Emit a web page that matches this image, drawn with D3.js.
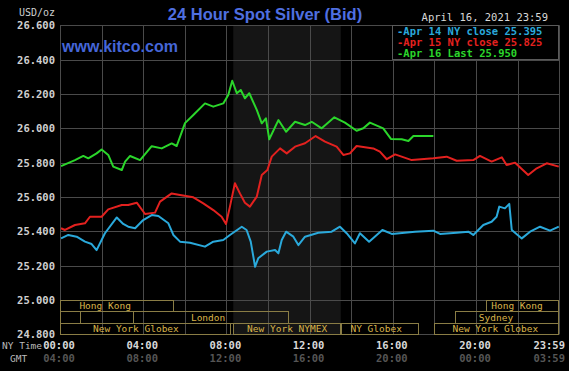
<!DOCTYPE html>
<html>
  <head>
    <script src="https://d3js.org/d3.v7.min.js"></script>
    <meta charset="utf-8">
    <style>
    body {
      margin: 0;
      background: #000;
    }
    svg {
      display: block;
    }
    .mono {
      font-family: "DejaVu Sans Mono", "Liberation Mono", monospace;
    }
  </style>
  </head>
  <body>
    <div id="chart"></div>
    <script>
    // [hour of NY day, price]
    var apr14 = [
      [0.05, 25.359], [0.4, 25.379], [0.8, 25.369], [1.2, 25.34], [1.52, 25.326], [1.76, 25.291],
      [2.16, 25.389], [2.73, 25.481], [3.04, 25.443], [3.28, 25.427], [3.61, 25.418], [4.0, 25.466],
      [4.41, 25.495], [4.73, 25.489], [5.21, 25.447], [5.45, 25.379], [5.77, 25.34], [6.25, 25.334],
      [6.97, 25.311], [7.37, 25.34], [7.85, 25.35], [8.17, 25.379], [8.74, 25.427], [8.97, 25.408],
      [9.17, 25.34], [9.38, 25.194], [9.53, 25.243], [9.94, 25.282], [10.34, 25.291], [10.5, 25.272],
      [10.66, 25.35], [10.87, 25.398], [11.22, 25.369], [11.46, 25.32], [11.78, 25.369], [12.42, 25.392],
      [13.06, 25.398], [13.46, 25.427], [13.78, 25.389], [14.18, 25.33], [14.42, 25.389], [14.86, 25.34],
      [15.5, 25.408], [15.95, 25.385], [17.07, 25.398], [17.95, 25.404], [18.27, 25.385], [19.07, 25.392],
      [19.63, 25.398], [19.87, 25.379], [20.35, 25.437], [20.75, 25.456], [20.99, 25.485], [21.12, 25.544],
      [21.39, 25.534], [21.6, 25.56], [21.72, 25.408], [22.2, 25.359], [22.6, 25.398], [23.08, 25.427],
      [23.56, 25.404], [23.98, 25.427]
    ];

    var apr15 = [
      [0.05, 25.418], [0.24, 25.408], [0.72, 25.437], [1.2, 25.447], [1.44, 25.485], [2.0, 25.485],
      [2.32, 25.528], [2.97, 25.553], [3.28, 25.553], [3.69, 25.567], [4.09, 25.501], [4.57, 25.509],
      [4.81, 25.573], [5.37, 25.621], [5.77, 25.612], [6.41, 25.598], [6.89, 25.563], [7.37, 25.524],
      [7.77, 25.485], [7.98, 25.443], [8.17, 25.544], [8.41, 25.68], [8.65, 25.621], [8.89, 25.567],
      [9.13, 25.544], [9.46, 25.602], [9.7, 25.728], [9.97, 25.757], [10.18, 25.835], [10.58, 25.883],
      [10.9, 25.854], [11.3, 25.893], [11.78, 25.913], [12.29, 25.955], [12.74, 25.922], [13.3, 25.893],
      [13.62, 25.845], [13.94, 25.854], [14.26, 25.897], [15.06, 25.883], [15.38, 25.864], [15.71, 25.82],
      [16.11, 25.848], [16.91, 25.815], [17.95, 25.825], [18.59, 25.835], [19.07, 25.811], [19.87, 25.815],
      [20.19, 25.839], [20.75, 25.806], [21.24, 25.831], [21.47, 25.786], [21.88, 25.8], [22.51, 25.728],
      [22.92, 25.767], [23.4, 25.796], [23.98, 25.777]
    ];

    var apr16 = [
      [0.05, 25.78], [0.72, 25.815], [1.12, 25.839], [1.36, 25.825], [1.76, 25.854], [2.0, 25.877],
      [2.32, 25.845], [2.56, 25.777], [2.97, 25.757], [3.13, 25.806], [3.37, 25.839], [3.85, 25.815],
      [4.41, 25.896], [4.89, 25.883], [5.37, 25.912], [5.61, 25.897], [6.01, 26.03], [6.41, 26.077],
      [6.97, 26.145], [7.37, 26.126], [7.85, 26.145], [8.09, 26.194], [8.28, 26.277], [8.5, 26.204],
      [8.69, 26.223], [8.89, 26.175], [9.1, 26.204], [9.46, 26.107], [9.7, 26.029], [9.9, 26.058],
      [10.06, 25.936], [10.5, 26.048], [10.87, 25.98], [11.3, 26.038], [11.78, 26.019], [12.1, 26.038],
      [12.58, 26.0], [13.19, 26.064], [13.7, 26.033], [14.26, 25.986], [14.58, 26.0], [14.9, 26.033],
      [15.54, 26.0], [15.91, 25.938], [16.43, 25.936], [16.75, 25.926], [16.99, 25.955], [17.95, 25.955]
    ];

    var legendLines = ["-Apr 14 NY close 25.395", "-Apr 15 NY close 25.825", "-Apr 16 Last 25.950"];
    var priceTicks = [24.8, 25.0, 25.2, 25.4, 25.6, 25.8, 26.0, 26.2, 26.4, 26.6];
    var hourLabels = [0, 4, 8, 12, 16, 20, 23.983];
    var nyLabels = ["00:00", "04:00", "08:00", "12:00", "16:00", "20:00", "23:59"];
    var gmtLabels = ["04:00", "08:00", "12:00", "16:00", "20:00", "00:00", "03:59"];

    // trading sessions: row, start hour, end hour, label hour
    var sessions = [
      {name: "Hong Kong", row: 0, start: 0, end: 5.5, at: 2.17},
      {name: "Hong Kong", row: 0, start: 20.5, end: 24, at: 21.97},
      {name: "", row: 1, start: 0, end: 1, at: 0.5},
      {name: "London", row: 1, start: 3.5, end: 11, at: 7.12},
      {name: "Sydney", row: 1, start: 19, end: 24, at: 20.96},
      {name: "New York Globex", row: 2, start: 0, end: 8.2, at: 3.65},
      {name: "New York NYMEX", row: 2, start: 8.33, end: 13.5, at: 10.92},
      {name: "NY Globex", row: 2, start: 13.5, end: 17.25, at: 15.2},
      {name: "New York Globex", row: 2, start: 18, end: 24, at: 20.93}
    ];

    var width = 569, height = 371;
    var x = d3.scaleLinear().domain([0, 24]).range([60, 559.2]);
    var y = d3.scaleLinear().domain([24.8, 26.6]).range([334.4, 25.25]);

    var svg = d3.select("#chart").append("svg")
      .attr("width", width)
      .attr("height", height);

    svg.append("rect")
      .attr("width", width).attr("height", height)
      .attr("fill", "#000");

    // pit hours shading
    svg.append("rect")
      .attr("x", x(8.33)).attr("y", y(26.6))
      .attr("width", x(13.5) - x(8.33))
      .attr("height", y(24.8) - y(26.6))
      .attr("fill", "#151515");

    var grid = svg.append("g").attr("stroke", "#4a4a4a").attr("stroke-width", 1);
    grid.selectAll("line.v")
      .data(d3.range(0, 25, 2))
      .enter().append("line")
        .attr("class", "v")
        .attr("x1", function (d) { return Math.round(x(d)) + 0.5; })
        .attr("x2", function (d) { return Math.round(x(d)) + 0.5; })
        .attr("y1", y(26.6)).attr("y2", y(24.8));
    grid.selectAll("line.h")
      .data(priceTicks)
      .enter().append("line")
        .attr("class", "h")
        .attr("y1", function (d) { return Math.round(y(d)) + 0.5; })
        .attr("y2", function (d) { return Math.round(y(d)) + 0.5; })
        .attr("x1", x(0)).attr("x2", x(24));

    // sessions
    var rowY = [300, 311.3, 322.7, 334];
    var sess = svg.append("g").attr("class", "mono");
    sess.selectAll("rect")
      .data(sessions)
      .enter().append("rect")
        .attr("x", function (d) { return Math.round(x(d.start)) + 0.5; })
        .attr("y", function (d) { return Math.round(rowY[d.row]) + 0.5; })
        .attr("width", function (d) { return Math.round(x(d.end)) - Math.round(x(d.start)) - 1; })
        .attr("height", function (d) { return Math.round(rowY[d.row + 1]) - Math.round(rowY[d.row]); })
        .attr("fill", "none")
        .attr("stroke", "#8a7d45");
    sess.selectAll("text")
      .data(sessions)
      .enter().append("text")
        .attr("x", function (d) { return x(d.at); })
        .attr("y", function (d) { return (rowY[d.row] + rowY[d.row + 1]) / 2 + 3.5; })
        .attr("text-anchor", "middle")
        .attr("font-size", "9.5px")
        .attr("fill", "#d9b44a")
        .text(function (d) { return d.name; });

    // price lines
    var line = d3.line()
      .x(function (d) { return x(d[0]); })
      .y(function (d) { return y(d[1]); });
    var series = [
      {data: apr14, color: "#2aa9db"},
      {data: apr15, color: "#e3211f"},
      {data: apr16, color: "#2bd62b"}
    ];
    svg.selectAll("path.price")
      .data(series)
      .enter().append("path")
        .attr("class", "price")
        .attr("d", function (d) { return line(d.data); })
        .attr("fill", "none")
        .attr("stroke", function (d) { return d.color; })
        .attr("stroke-width", 2)
        .attr("stroke-linejoin", "round");

    // y axis
    var yAxis = svg.append("g").attr("class", "mono");
    yAxis.selectAll("text")
      .data(priceTicks)
      .enter().append("text")
        .attr("x", 55)
        .attr("y", function (d) { return y(d) + 4; })
        .attr("text-anchor", "end")
        .attr("font-size", "10.5px")
        .attr("font-weight", "bold")
        .attr("fill", "#cfcfcf")
        .text(function (d) { return d3.format(".3f")(d); });
    svg.append("text")
      .attr("class", "mono")
      .attr("x", 55).attr("y", 16)
      .attr("text-anchor", "end")
      .attr("font-size", "10px")
      .attr("fill", "#cfcfcf")
      .text("USD/oz");

    // x axis; last label is kept inside the right edge
    function labelX(d, i) {
      return i === hourLabels.length - 1 ? 565 : x(hourLabels[i]) - 1;
    }
    function labelAnchor(d, i) {
      return i === hourLabels.length - 1 ? "end" : "middle";
    }
    var xAxis = svg.append("g").attr("class", "mono");
    xAxis.selectAll("text.ny")
      .data(nyLabels)
      .enter().append("text")
        .attr("class", "ny")
        .attr("x", labelX)
        .attr("y", 349)
        .attr("text-anchor", labelAnchor)
        .attr("font-size", "10.5px")
        .attr("font-weight", "bold")
        .attr("fill", "#d8d8d8")
        .text(function (d) { return d; });
    xAxis.selectAll("text.gmt")
      .data(gmtLabels)
      .enter().append("text")
        .attr("class", "gmt")
        .attr("x", labelX)
        .attr("y", 362)
        .attr("text-anchor", labelAnchor)
        .attr("font-size", "10.5px")
        .attr("font-weight", "bold")
        .attr("fill", "#555")
        .text(function (d) { return d; });
    xAxis.append("text")
      .attr("x", 2).attr("y", 349)
      .attr("font-size", "9.5px")
      .attr("fill", "#bbb")
      .text("NY Time");
    xAxis.append("text")
      .attr("x", 10).attr("y", 362)
      .attr("font-size", "9.5px")
      .attr("fill", "#bbb")
      .text("GMT");

    // titles
    svg.append("text")
      .attr("x", 265).attr("y", 20)
      .attr("text-anchor", "middle")
      .attr("font-family", "'Liberation Sans', Arial, sans-serif")
      .attr("font-size", "16.5px")
      .attr("font-weight", "bold")
      .attr("fill", "#4f6fe0")
      .text("24 Hour Spot Silver (Bid)");
    svg.append("text")
      .attr("x", 62).attr("y", 52)
      .attr("font-family", "'Liberation Sans', Arial, sans-serif")
      .attr("font-size", "16px")
      .attr("font-weight", "bold")
      .attr("fill", "#4566d8")
      .text("www.kitco.com");
    svg.append("text")
      .attr("class", "mono")
      .attr("x", 548).attr("y", 21)
      .attr("text-anchor", "end")
      .attr("font-size", "10.5px")
      .attr("fill", "#d8d8d8")
      .text("April 16, 2021 23:59");

    // legend
    var legend = svg.append("g").attr("class", "mono");
    legend.append("rect")
      .attr("x", 392.5).attr("y", 25.5)
      .attr("width", 166).attr("height", 34)
      .attr("fill", "#000")
      .attr("stroke", "#5a5a5a");
    legend.selectAll("text")
      .data(legendLines)
      .enter().append("text")
        .attr("x", 397)
        .attr("y", function (d, i) { return 35 + i * 11.2; })
        .attr("font-size", "10.5px")
        .attr("font-weight", "bold")
        .attr("fill", function (d, i) { return series[i].color; })
        .text(function (d) { return d; });
  </script>
  </body>
</html>
